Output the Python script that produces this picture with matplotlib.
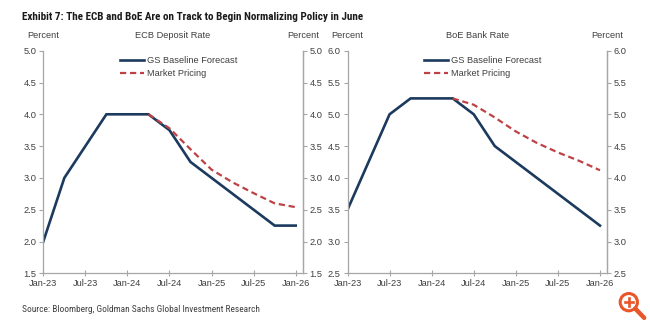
import matplotlib
matplotlib.use("Agg")
import matplotlib.pyplot as plt
from matplotlib import font_manager as fm
from matplotlib.patches import Circle

# Quarterly points, months since Jan-23
ecb_months = [0, 3, 6, 9, 12, 15, 18, 21, 24, 27, 30, 33, 36]
ecb_gs = [2.0, 3.0, 3.5, 4.0, 4.0, 4.0, 3.75, 3.25, 3.0, 2.75, 2.5, 2.25, 2.25]
ecb_mkt_months = [15, 18, 21, 24, 27, 30, 33, 36]
ecb_mkt = [4.0, 3.78, 3.45, 3.13, 2.93, 2.76, 2.60, 2.54]

boe_months = [0, 3, 6, 9, 12, 15, 18, 21, 24, 27, 30, 33, 36]
boe_gs = [3.5, 4.25, 5.0, 5.25, 5.25, 5.25, 5.0, 4.5, 4.25, 4.0, 3.75, 3.5, 3.25]
boe_mkt_months = [15, 18, 21, 24, 27, 30, 33, 36]
boe_mkt = [5.25, 5.15, 4.95, 4.73, 4.55, 4.40, 4.27, 4.12]

tick_months = [0, 6, 12, 18, 24, 30, 36]
tick_labels = ["Jan-23", "Jul-23", "Jan-24", "Jul-24", "Jan-25", "Jul-25", "Jan-26"]

NAVY = "#1b3a5e"
RED = "#be4245"
GREY = "#a6a6a6"
TXT = "#404040"
FS = 6.7

plt.rcParams["font.family"] = ["Liberation Sans", "DejaVu Sans"]

# narrow face for the heading and source line, if one is available
_names = {f.name for f in fm.fontManager.ttflist}
_narrow = [n for n in ["Liberation Sans Narrow", "Roboto Condensed", "Open Sans Condensed",
                       "Noto Sans Condensed", "DejaVu Sans Condensed"] if n in _names]
HEAD_FAMILY = _narrow[:1] + ["Roboto", "DejaVu Sans"]

fig = plt.figure(figsize=(6.5, 3.25), dpi=100)
W, H = 650.0, 325.0


def px(x, y):
    return x / W, 1 - y / H


def panel(x_left, x_right, leg_left, months, gs, mmonths, mkt, ylim, yticks, title):
    y_top, y_bot = 50.7, 273.3
    rect = [x_left / W, 1 - y_bot / H, (x_right - x_left) / W, (y_bot - y_top) / H]
    ax = fig.add_axes(rect)
    ax.plot(months, gs, color=NAVY, lw=1.9, label="GS Baseline Forecast",
            solid_joinstyle="miter")
    ax.plot(mmonths, mkt, color=RED, lw=1.6, ls=(0, (2.8, 1.7)), label="Market Pricing")
    ax.set_xlim(0, 37.0)
    ax.set_ylim(*ylim)
    ax.set_yticks(yticks)
    ax.set_yticklabels([f"{v:.1f}" for v in yticks])
    ax.set_xticks(tick_months)
    ax.set_xticklabels(tick_labels)
    for s in ["left", "right", "bottom"]:
        ax.spines[s].set_color(GREY)
        ax.spines[s].set_linewidth(0.9)
    ax.spines["top"].set_visible(False)
    ax.tick_params(axis="y", direction="out", length=3, width=0.8, color=GREY,
                   labelsize=FS, labelcolor=TXT, pad=2)
    ax.tick_params(axis="x", direction="inout", length=4, width=0.8, color=GREY,
                   labelsize=FS, labelcolor=TXT, pad=2)
    ax2 = ax.twinx()
    ax2.set_ylim(*ylim)
    ax2.set_yticks(yticks)
    ax2.set_yticklabels([f"{v:.1f}" for v in yticks])
    for s in ["left", "bottom", "top"]:
        ax2.spines[s].set_visible(False)
    ax2.spines["right"].set_color(GREY)
    ax2.spines["right"].set_linewidth(0.9)
    ax2.tick_params(axis="y", direction="out", length=3, width=0.8, color=GREY,
                    labelsize=FS, labelcolor=TXT, pad=2)
    legx = (leg_left - 4 - x_left) / (x_right - x_left)
    leg = ax.legend(loc="upper left", bbox_to_anchor=(legx, 1.0), frameon=False,
                    fontsize=FS, handlelength=2.6, handletextpad=0.35,
                    labelspacing=0.38, borderaxespad=0.3, borderpad=0.3)
    for t in leg.get_texts():
        t.set_color(TXT)
    # header row: unit labels over each spine and the chart name
    hy = 1 - 35 / H
    fig.text(x_left / W, hy, "Percent", ha="center", va="center", fontsize=FS, color=TXT)
    fig.text(x_right / W, hy, "Percent", ha="center", va="center", fontsize=FS, color=TXT)
    fig.text((x_left + x_right) / 2 / W, hy, title, ha="center", va="center",
             fontsize=FS, color=TXT)
    return ax


panel(43.3, 302.7, 118, ecb_months, ecb_gs, ecb_mkt_months, ecb_mkt,
      (1.5, 5.0), [1.5, 2.0, 2.5, 3.0, 3.5, 4.0, 4.5, 5.0], "ECB Deposit Rate")
panel(347.5, 607.0, 422, boe_months, boe_gs, boe_mkt_months, boe_mkt,
      (2.5, 6.0), [2.5, 3.0, 3.5, 4.0, 4.5, 5.0, 5.5, 6.0], "BoE Bank Rate")

title = fig.text(*px(22, 17), "Exhibit 7: The ECB and BoE Are on Track to Begin Normalizing Policy in June",
                 ha="left", va="center", fontsize=8.4, fontweight="bold", color="#1a1a1a",
                 family=HEAD_FAMILY)
source = fig.text(*px(22, 309), "Source: Bloomberg, Goldman Sachs Global Investment Research",
                  ha="left", va="center", fontsize=7.2, color=TXT, family=HEAD_FAMILY)

# keep heading and source within their printed widths
renderer = fig.canvas.get_renderer()
for txt, target in [(title, 341.0), (source, 238.0)]:
    w = txt.get_window_extent(renderer).width
    if w > target:
        txt.set_fontsize(txt.get_fontsize() * target / w)

# zoom icon in the lower right corner
ORANGE = "#e8562a"
icon = fig.add_axes([616 / W, 1 - 322 / H, 32 / W, 32 / H])
icon.set_xlim(0, 1)
icon.set_ylim(0, 1)
icon.axis("off")
icon.add_patch(Circle((0.40, 0.62), 0.27, fill=False, ec=ORANGE, lw=2.2))
icon.plot([0.60, 0.88], [0.42, 0.13], color=ORANGE, lw=3.2, solid_capstyle="round")
icon.plot([0.27, 0.53], [0.62, 0.62], color=ORANGE, lw=1.9)
icon.plot([0.40, 0.40], [0.49, 0.75], color=ORANGE, lw=1.9)

fig.savefig("out.png", dpi=100, facecolor="white")
